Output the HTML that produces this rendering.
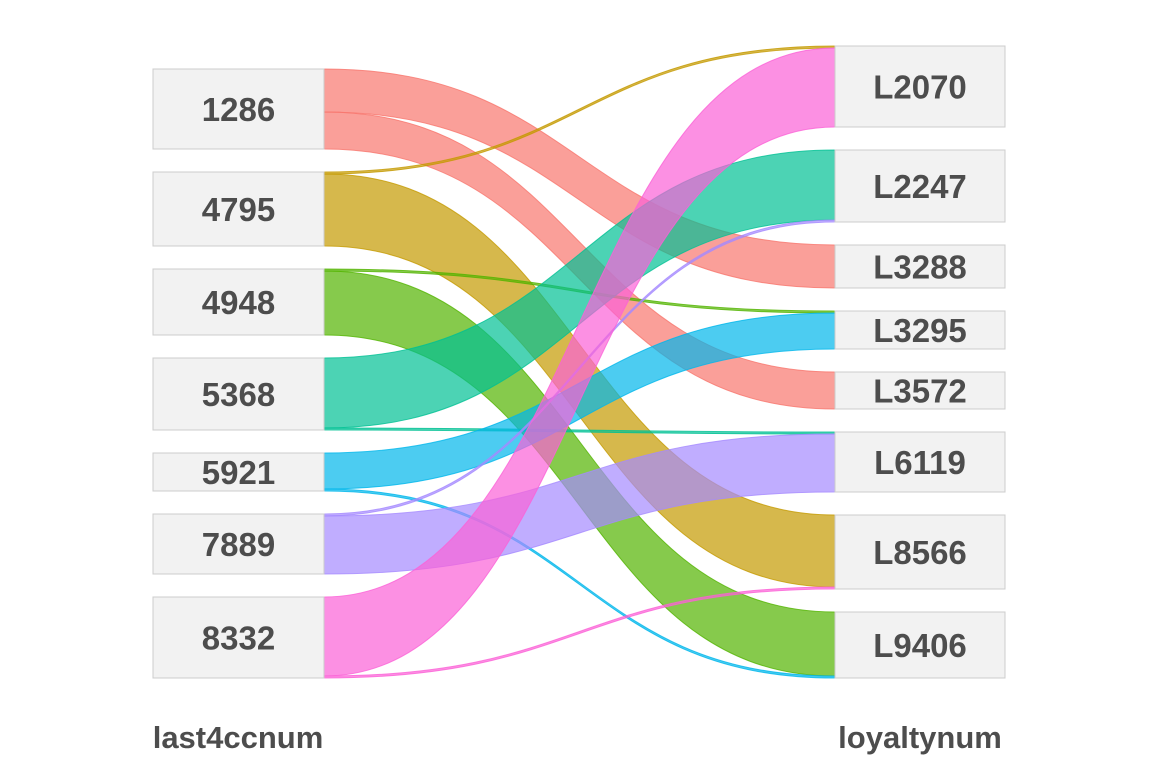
<!DOCTYPE html>
<html><head><meta charset="utf-8">
<style>
html,body{margin:0;padding:0;background:#fff;}
svg{display:block;font-family:"Liberation Sans",Arial,sans-serif;}
</style></head>
<body>
<svg id="chart" width="1153" height="768" viewBox="0 0 1153 768" xmlns="http://www.w3.org/2000/svg">
<g id="flows"></g>
<g id="nodes"></g>
<text x="238" y="748" text-anchor="middle" font-size="31" font-weight="bold" fill="#4d4d4d">last4ccnum</text>
<text x="920" y="748" text-anchor="middle" font-size="31" font-weight="bold" fill="#4d4d4d">loyaltynum</text>
</svg>
<script>
const leftNodes = ["1286","4795","4948","5368","5921","7889","8332"];
const rightNodes = ["L2070","L2247","L3288","L3295","L3572","L6119","L8566","L9406"];
const flowFrom = ["1286","1286","4795","4795","4948","4948","5368","5368","5921","5921","7889","7889","8332","8332"];
const flowTo   = ["L3288","L3572","L2070","L8566","L3295","L9406","L2247","L6119","L3295","L9406","L2247","L6119","L2070","L8566"];
const flowValues = [43,37,2,72,2,64,70,2,36,2,2,58,79,2];
const leftColors = {"1286":"#F8766D","4795":"#C49A00","4948":"#53B400","5368":"#00C094","5921":"#00B6EB","7889":"#A58AFF","8332":"#FB61D7"};

const NS="http://www.w3.org/2000/svg";
const scale=1, gap=23, leftTop=69, rightTop=46;
const LX0=153, LX1=324, RX0=835, RX1=1005;
function totals(nodes,key){const t={};nodes.forEach(n=>t[n]=0);flowValues.forEach((v,i)=>t[key[i]]+=v);return t;}
const lt=totals(leftNodes,flowFrom), rt=totals(rightNodes,flowTo);
function positions(nodes,t,top){const p={};let y=top;nodes.forEach(n=>{p[n]=y;y+=t[n]*scale+gap;});return p;}
const lp=positions(leftNodes,lt,leftTop), rp=positions(rightNodes,rt,rightTop);
const idx=flowValues.map((v,i)=>i);
const lOff={},rOff={};leftNodes.forEach(n=>lOff[n]=lp[n]);rightNodes.forEach(n=>rOff[n]=rp[n]);
const ly={},ry={};
idx.slice().sort((a,b)=>leftNodes.indexOf(flowFrom[a])-leftNodes.indexOf(flowFrom[b])||rightNodes.indexOf(flowTo[a])-rightNodes.indexOf(flowTo[b])).forEach(i=>{ly[i]=lOff[flowFrom[i]];lOff[flowFrom[i]]+=flowValues[i]*scale;});
idx.slice().sort((a,b)=>rightNodes.indexOf(flowTo[a])-rightNodes.indexOf(flowTo[b])||leftNodes.indexOf(flowFrom[a])-leftNodes.indexOf(flowFrom[b])).forEach(i=>{ry[i]=rOff[flowTo[i]];rOff[flowTo[i]]+=flowValues[i]*scale;});
const fg=document.getElementById('flows');
const mx=(LX1+RX0)/2;
idx.forEach(i=>{
  const h=flowValues[i]*scale, a=ly[i], b=ry[i];
  const d=`M${LX1},${a} C${mx},${a} ${mx},${b} ${RX0},${b} L${RX0},${b+h} C${mx},${b+h} ${mx},${a+h} ${LX1},${a+h} Z`;
  const p=document.createElementNS(NS,'path');
  p.setAttribute('d',d);p.setAttribute('fill',leftColors[flowFrom[i]]);p.setAttribute('fill-opacity','0.7');
  p.setAttribute('stroke',leftColors[flowFrom[i]]);p.setAttribute('stroke-width','1');p.setAttribute('stroke-opacity','0.8');
  
  
  fg.appendChild(p);
});
const ng=document.getElementById('nodes');
function node(name,x0,x1,y,h){
  const r=document.createElementNS(NS,'rect');
  r.setAttribute('x',x0);r.setAttribute('y',y);r.setAttribute('width',x1-x0);r.setAttribute('height',h);
  r.setAttribute('fill','#f2f2f2');r.setAttribute('stroke','#cccccc');r.setAttribute('stroke-width','1');
  
  
  ng.appendChild(r);
  const t=document.createElementNS(NS,'text');
  t.setAttribute('x',(x0+x1)/2);t.setAttribute('y',y+h/2+12);t.setAttribute('text-anchor','middle');
  t.setAttribute('font-size','33');t.setAttribute('font-weight','bold');t.setAttribute('fill','#4d4d4d');
  t.textContent=name;
  
  
  ng.appendChild(t);
}
leftNodes.forEach(n=>node(n,LX0,LX1,lp[n],lt[n]*scale));
rightNodes.forEach(n=>node(n,RX0,RX1,rp[n],rt[n]*scale));
</script>
</body></html>
